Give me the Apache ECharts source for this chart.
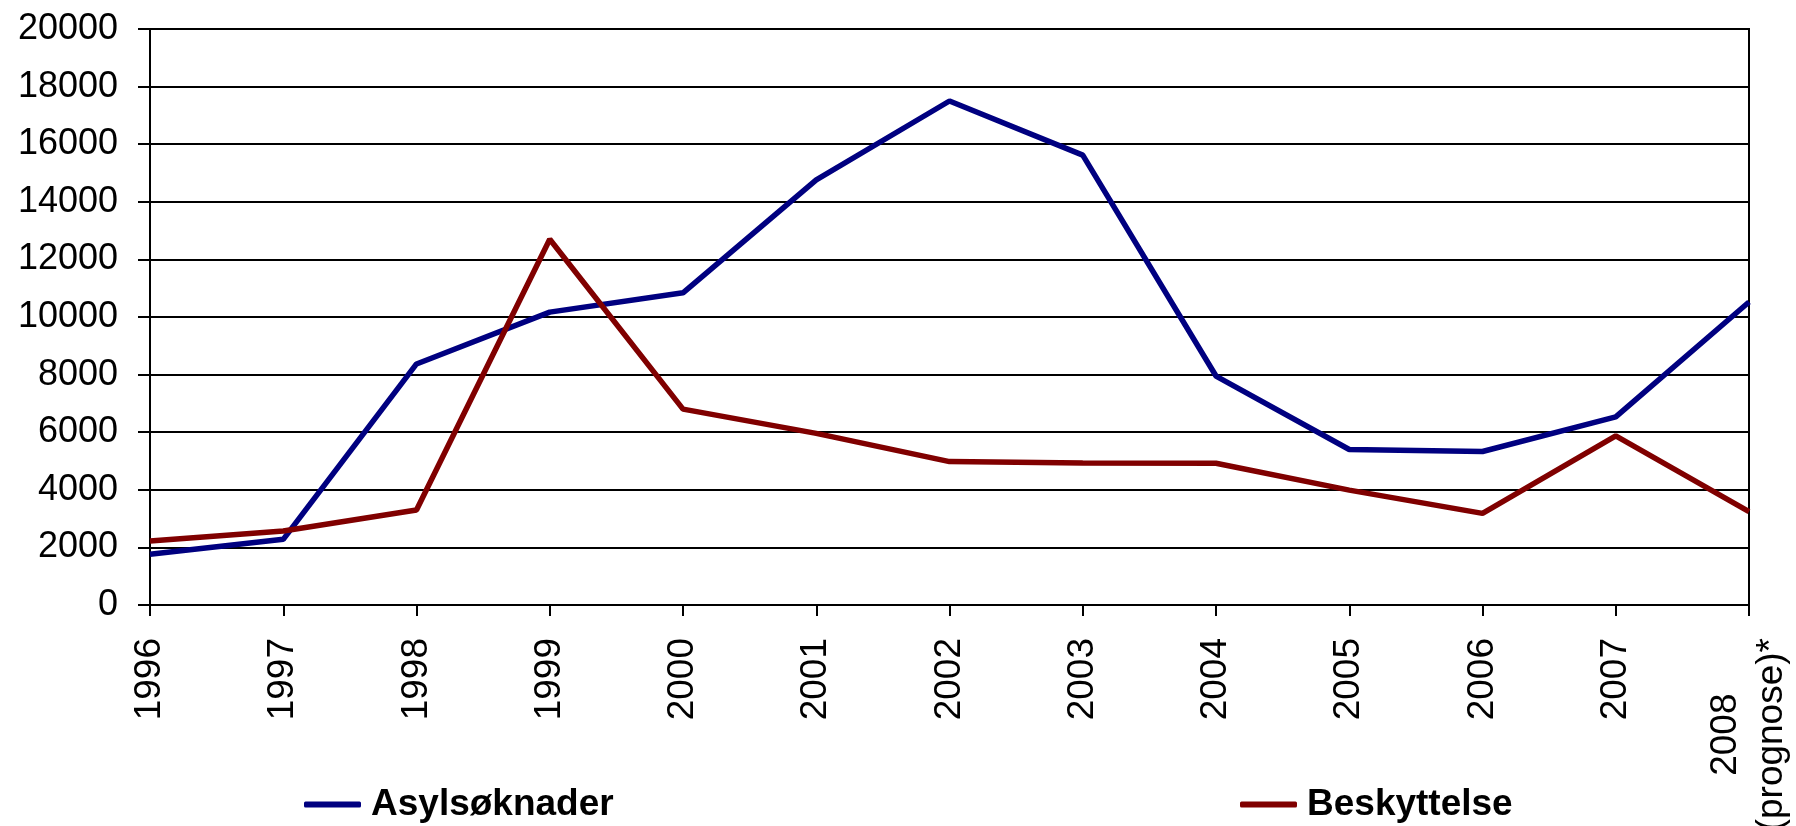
<!DOCTYPE html>
<html>
<head>
<meta charset="utf-8">
<script src="https://cdn.jsdelivr.net/npm/echarts@6/dist/echarts.min.js"></script>
<style>
html,body{margin:0;padding:0;background:#fff;}
#chart{width:1796px;height:826px;}
</style>
</head>
<body>
<div id="chart"></div>
<script>
const categories = ['1996','1997','1998','1999','2000','2001','2002','2003','2004','2005','2006','2007','2008\n(prognose)*'];
const asylsoknader = [1760, 2280, 8370, 10170, 10840, 14760, 17500, 15620, 7950, 5400, 5330, 6530, 10520];
const beskyttelse = [2220, 2570, 3300, 12700, 6800, 5960, 4980, 4930, 4920, 3990, 3180, 5870, 3240];
const yTicks = {min: 0, max: 20000, interval: 2000};
const seriesNames = ['Asylsøknader', 'Beskyttelse'];

const FONT = 'Liberation Sans, Arial, sans-serif';
const chart = echarts.init(document.getElementById('chart'), null, {renderer: 'canvas'});
chart.setOption({
  backgroundColor: '#fff',
  animation: false,
  grid: {left: 150, right: 47, top: 29, bottom: 221, show: true, borderColor: '#000', borderWidth: 2,
         backgroundColor: 'transparent', containLabel: false, outerBoundsMode: 'none'},
  legend: [
    {data: [seriesNames[0]], left: 299, top: 781, itemWidth: 57, itemHeight: 6, itemGap: 10, icon: 'roundRect',
     textStyle: {fontFamily: FONT, fontSize: 37, fontWeight: 'bold', color: '#000', padding: [0,0,0,5]}},
    {data: [seriesNames[1]], left: 1235, top: 781, itemWidth: 57, itemHeight: 6, itemGap: 10, icon: 'roundRect',
     textStyle: {fontFamily: FONT, fontSize: 37, fontWeight: 'bold', color: '#000', padding: [0,0,0,5]}}
  ],
  xAxis: {
    type: 'category',
    data: categories,
    boundaryGap: false,
    axisLine: {show: true, lineStyle: {color: '#000', width: 2}},
    axisTick: {show: true, length: 11, lineStyle: {color: '#000', width: 2}, alignWithLabel: true},
    axisLabel: {
      rotate: 90, margin: 33, interval: 0, color: '#000', fontFamily: FONT, fontSize: 37,
      formatter: function (v) {
        if (v.indexOf('\n') >= 0) {
          return v.split('\n').map(function (s) { return '{c|' + s + '}'; }).join('\n');
        }
        return v;
      },
      rich: {c: {align: 'center', fontFamily: FONT, fontSize: 37, color: '#000', lineHeight: 46}}
    },
    splitLine: {show: false}
  },
  yAxis: {
    type: 'value',
    min: yTicks.min, max: yTicks.max, interval: yTicks.interval,
    axisLine: {show: true, lineStyle: {color: '#000', width: 2}},
    axisTick: {show: true, length: 12, lineStyle: {color: '#000', width: 2}},
    axisLabel: {margin: 32, color: '#000', fontFamily: FONT, fontSize: 36,
      formatter: function (v) { return String(v); }},
    splitLine: {show: true, lineStyle: {color: '#000', width: 2}}
  },
  series: [
    {name: seriesNames[0], type: 'line', data: asylsoknader, symbol: 'none', smooth: false,
     lineStyle: {color: '#000080', width: 5.5}, itemStyle: {color: '#000080'}},
    {name: seriesNames[1], type: 'line', data: beskyttelse, symbol: 'none', smooth: false,
     lineStyle: {color: '#800000', width: 5.5}, itemStyle: {color: '#800000'}}
  ]
});
</script>
</body>
</html>
